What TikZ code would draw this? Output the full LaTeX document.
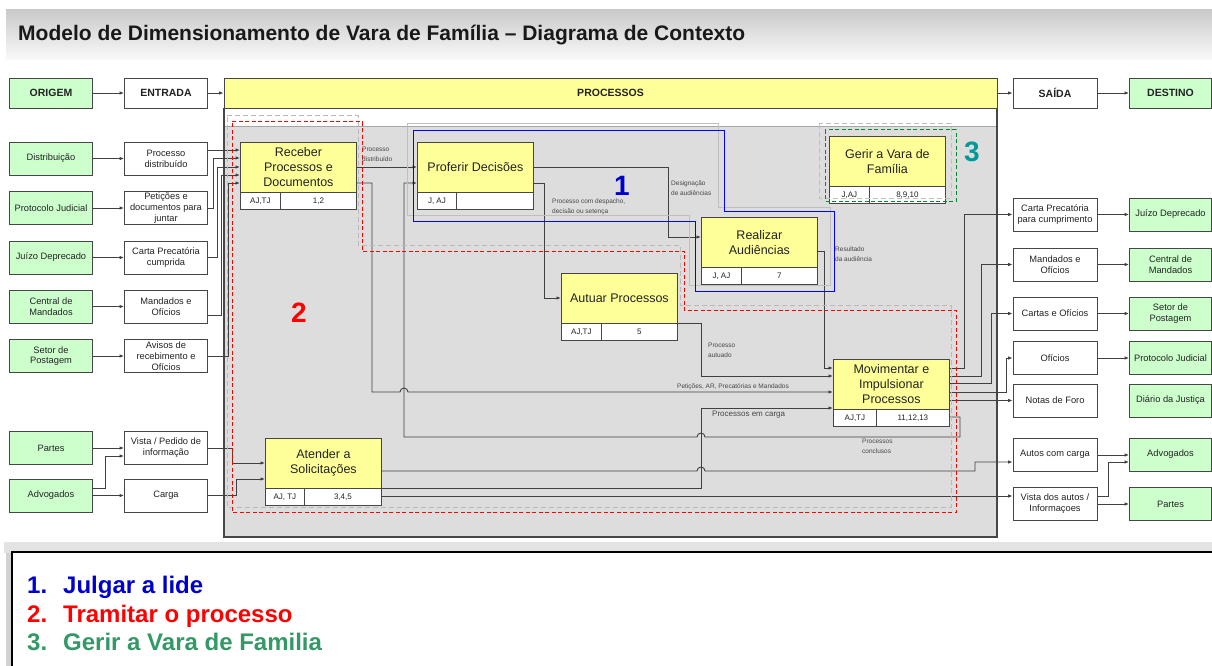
\documentclass[tikz,border=0pt]{standalone}
\usepackage{fontspec}
\setmainfont{Liberation Sans}
\usetikzlibrary{arrows.meta}
\definecolor{greenf}{RGB}{204,255,204}
\definecolor{yellowf}{RGB}{255,255,153}
\definecolor{areaf}{RGB}{221,221,221}
\definecolor{lnc}{RGB}{64,64,64}
\definecolor{bdc}{RGB}{70,70,70}
\definecolor{txc}{RGB}{35,35,35}
\definecolor{lbc}{RGB}{70,70,70}
\definecolor{bluen}{RGB}{0,0,204}
\definecolor{blueg}{RGB}{0,0,255}
\definecolor{tealn}{RGB}{0,153,153}
\definecolor{greenl}{RGB}{51,153,102}
\definecolor{greend}{RGB}{0,140,40}
\newcommand{\fsz}[2]{\fontsize{#1}{#2}\selectfont}
\newcommand{\proc}[8]{%
  \node[ptitle, anchor=north west] (#1) at (#2,#3) {#4};
  \node[pcell, minimum width=#7pt, anchor=north west] (#1L) at (#1.south west) {#5};
  \node[pcell, minimum width=#8pt, anchor=north east] (#1R) at (#1.south east) {#6};
}
\tikzset{
  ln/.style={draw=lnc, line width=0.9pt},
  arr/.style={ln, -{Latex[length=4.5pt,width=3.5pt]}},
  hdr/.style={draw=bdc, line width=0.8pt, font=\fsz{10.5}{12}\bfseries, text=txc, minimum height=30pt, inner sep=0pt},
  gbox/.style={draw=bdc, line width=0.8pt, fill=greenf, minimum width=83pt, minimum height=33pt, align=center, inner sep=0pt, text=txc, font=\fsz{9.3}{10.8}},
  wbox/.style={gbox, fill=white},
  ptitle/.style={draw=bdc, line width=0.8pt, fill=yellowf, minimum width=116pt, minimum height=49.5pt, align=center, inner sep=0pt, text=txc, font=\fsz{12.5}{15}},
  pcell/.style={draw=bdc, line width=0.8pt, fill=white, minimum height=16.5pt, inner sep=0pt, text=txc, font=\fsz{8}{9}},
  lbl/.style={font=\fsz{6.5}{10}, text=lbc, align=left, inner sep=0pt},
  legt/.style={font=\fsz{24}{28}\bfseries, inner sep=0pt, anchor=base west},
  bignum/.style={font=\fsz{28}{30}\bfseries, inner sep=0pt},
}
\begin{document}
\begin{tikzpicture}[x=1pt,y=-1pt]
\useasboundingbox (0,0) rectangle (1212,666);
\fill[white] (0,0) rectangle (1212,666);
% title band
\shade[top color=gray!42, bottom color=gray!4] (6,10) rectangle (1212,60);
\node[anchor=west, inner sep=0pt, font=\fsz{21}{24}\bfseries, text=black!90] (title) at (18,35) {Modelo de Dimensionamento de Vara de Família – Diagrama de Contexto};
% process area
\fill[areaf] (224,126) rectangle (997,537);
\draw[gray!70, line width=0.6pt] (224,126) -- (997,126);
\draw[bdc, line width=1.2pt] (224,108) -- (224,537) -- (997,537) -- (997,108);
% header row
\node[hdr, fill=greenf, minimum width=83pt] (hO) at (51,93) {ORIGEM};
\node[hdr, fill=white, minimum width=83pt] (hE) at (166,93) {ENTRADA};
\node[hdr, fill=yellowf, minimum width=773pt] (hP) at (610.5,93) {PROCESSOS};
\node[hdr, fill=white, minimum width=84pt] (hS) at (1055,93) {SAÍDA};
\node[hdr, fill=greenf, minimum width=82pt] (hD) at (1170.5,93) {DESTINO};
\draw[arr] (hO) -- (hE);
\draw[arr] (hE) -- (hP);
\draw[arr] (hP) -- (hS);
\draw[arr] (hS) -- (hD);
% origem / entrada
\node[gbox] (o1) at (51,158.5) {Distribuição};
\node[gbox] (o2) at (51,208) {Protocolo Judicial};
\node[gbox] (o3) at (51,257.5) {Juízo Deprecado};
\node[gbox] (o4) at (51,306.5) {Central de\\Mandados};
\node[gbox] (o5) at (51,356) {Setor de\\Postagem};
\node[gbox] (o6) at (51,448) {Partes};
\node[gbox] (o7) at (51,495.5) {Advogados};
\node[wbox] (e1) at (166,158.5) {Processo\\distribuído};
\node[wbox] (e2) at (166,208) {Petições e\\documentos para\\juntar};
\node[wbox] (e3) at (166,257.5) {Carta Precatória\\cumprida};
\node[wbox] (e4) at (166,306.5) {Mandados e\\Ofícios};
\node[wbox] (e5) at (166,356) {Avisos de\\recebimento e\\Ofícios};
\node[wbox] (e6) at (166,448) {Vista / Pedido de\\informação};
\node[wbox] (e7) at (166,495.5) {Carga};
% saida / destino
\node[wbox, minimum width=84pt] (s1) at (1055,214.5) {Carta Precatória\\para cumprimento};
\node[wbox, minimum width=84pt] (s2) at (1055,264.5) {Mandados e\\Ofícios};
\node[wbox, minimum width=84pt] (s3) at (1055,313.5) {Cartas e Ofícios};
\node[wbox, minimum width=84pt] (s4) at (1055,358) {Ofícios};
\node[wbox, minimum width=84pt] (s5) at (1055,400.5) {Notas de Foro};
\node[wbox, minimum width=84pt] (s6) at (1055,454.5) {Autos com carga};
\node[wbox, minimum width=84pt] (s7) at (1055,504) {Vista dos autos /\\Informaçoes};
\node[gbox, minimum width=82pt] (d1) at (1170.5,214.5) {Juízo Deprecado};
\node[gbox, minimum width=82pt] (d2) at (1170.5,264.5) {Central de\\Mandados};
\node[gbox, minimum width=82pt] (d3) at (1170.5,313.5) {Setor de\\Postagem};
\node[gbox, minimum width=82pt] (d4) at (1170.5,358) {Protocolo Judicial};
\node[gbox, minimum width=82pt] (d5) at (1170.5,400.5) {Diário da Justiça};
\node[gbox, minimum width=82pt] (d6) at (1170.5,454.5) {Advogados};
\node[gbox, minimum width=82pt] (d7) at (1170.5,504) {Partes};
% processes
\proc{rec}{240}{142}{Receber\\Processos e\\Documentos}{AJ,TJ}{1,2}{40}{76}
\proc{prof}{417}{142}{Proferir Decisões}{J, AJ}{}{39}{77}
\proc{aut}{561}{273}{Autuar Processos}{AJ,TJ}{5}{40}{76}
\proc{real}{701}{217}{Realizar\\Audiências}{J, AJ}{7}{40}{76}
\proc{ger}{829}{136}{Gerir a Vara de\\Família}{J,AJ}{8,9,10}{40}{76}
\proc{mov}{833}{359}{Movimentar e\\Impulsionar\\Processos}{AJ,TJ}{11,12,13}{43}{73}
\proc{ate}{265}{438}{Atender a\\Solicitações}{AJ, TJ}{3,4,5}{39}{77}
% origem -> entrada
\draw[arr] (o1) -- (e1);
\draw[arr] (o2) -- (e2);
\draw[arr] (o3) -- (e3);
\draw[arr] (o4) -- (e4);
\draw[arr] (o5) -- (e5);
\draw[arr] (o6.east |- 0,448) -- (e6.west |- 0,448);
\draw[arr] (o7.east |- 0,488) -| (105,456) -- (e6.west |- 0,456);
\draw[arr] (o7) -- (e7);
% entrada -> receber / atender
\draw[arr] (e1.east |- 0,150) -- (rec.west |- 0,150);
\draw[arr] (e2.east) -| (213,158) -- (rec.west |- 0,158);
\draw[arr] (e3.east) -| (217,167) -- (rec.west |- 0,167);
\draw[arr] (e4.east |- 0,315) -| (221,175) -- (rec.west |- 0,175);
\draw[arr] (e5.east) -| (228,183) -- (rec.west |- 0,183);
\draw[arr] (e6.east) -| (232,463) -- (ate.west |- 0,463);
\draw[arr] (e7.east) -| (236,479) -- (ate.west |- 0,479);
% internal flows
\draw[arr] (rec.east |- 0,167) -- (prof.west |- 0,167);
\draw[arr] (rec.east |- 0,183) -| (372,392) -- (400,392) arc[start angle=180, end angle=0, radius=4pt] -- (mov.west |- 0,392);
\draw[arr] (prof.east |- 0,167) -| (668,237) -- (real.west |- 0,237);
\draw[arr] (prof.east |- 0,183) -| (544,298) -- (aut.west |- 0,298);
\draw[arr] (aut.south east) -| (701,376) -- (mov.west |- 0,376);
\draw[arr] (real.east |- 0,251) -| (824,368) -- (mov.west |- 0,368);
\draw[arr] (ate.south east) -| (701,408) -- (mov.west |- 0,408);
\draw[arr] (movR.east |- 0,417) -| (960,437) -- (705,437) arc[start angle=0, end angle=180, radius=4pt] -- (404,437) |- (prof.west |- 0,183);
\draw[arr] (ate.east |- 0,471) -- (697,471) arc[start angle=180, end angle=0, radius=4pt] -- (975,471) |- (s6.west |- 0,462);
\draw[arr] (ateR.east |- 0,496) -- (s7.west |- 0,496);
% movimentar -> saida
\draw[arr] (mov.east |- 0,368) -| (964,214.5) -- (s1.west);
\draw[arr] (mov.east |- 0,376) -| (981,264.5) -- (s2.west);
\draw[arr] (mov.east |- 0,383) -| (991,313.5) -- (s3.west);
\draw[arr] (mov.east |- 0,392) -| (1006,358) -- (s4.west);
\draw[arr] (mov.east |- 0,400.5) -- (s5.west);
% saida -> destino
\draw[arr] (s1) -- (d1);
\draw[arr] (s2) -- (d2);
\draw[arr] (s3) -- (d3);
\draw[arr] (s4) -- (d4);
\draw[arr] (s6.east |- 0,455) -- (d6.west |- 0,455);
\draw[arr] (s7.east |- 0,496) -| (1108,462) -- (d6.west |- 0,462);
\draw[arr] (s7.east |- 0,504) -- (d7.west |- 0,504);
% labels
\node[lbl, anchor=north west] (lb1) at (362,147) {Processo\\distribuído};
\node[lbl, anchor=north west] (lb2) at (671,181) {Designação\\de audiências};
\node[lbl, anchor=north west] (lb3) at (552,199) {Processo com despacho,\\decisão ou setença};
\node[lbl, anchor=north west] (lb4) at (835,247) {Resultado\\da audiência};
\node[lbl, anchor=north west] (lb5) at (708,343) {Processo\\autuado};
\node[lbl, anchor=south west] (lb6) at (677,390) {Petições, AR, Precatórias e Mandados};
\node[lbl, anchor=west, font=\fsz{8}{9}] (lb7) at (712,415) {Processos em carga};
\node[lbl, anchor=north west] (lb8) at (862,439) {Processos\\conclusos};
% group outlines
\draw[gray!55, line width=1pt, dash pattern=on 5pt off 3pt] (227,116) -- (358,116) -- (358,245) -- (680,245) -- (680,305) -- (951,305) -- (951,507) -- (227,507) -- cycle;
\draw[red, line width=1pt, dash pattern=on 4pt off 2.5pt] (232,122) -- (362,122) -- (362,251) -- (684,251) -- (684,310) -- (956,310) -- (956,512) -- (232,512) -- cycle;
\draw[gray!50, line width=1pt] (407,124) -- (718,124) -- (718,207) -- (830,207) -- (830,285) -- (689,285) -- (689,215) -- (407,215) -- cycle;
\draw[blueg, line width=1pt] (413,131) -- (724,131) -- (724,211) -- (834,211) -- (834,291) -- (695,291) -- (695,221) -- (413,221) -- cycle;
\draw[gray!50, line width=1pt, dash pattern=on 5pt off 3pt] (819,124) rectangle (951,198);
\draw[greend, line width=1pt, dash pattern=on 4pt off 2.5pt] (825,130) rectangle (956,201);
% big numbers
\node[bignum, text=bluen] (n1) at (622,186) {1};
\node[bignum, text=red] (n2) at (299,313) {2};
\node[bignum, text=tealn] (n3) at (972,152) {3};
% legend
\fill[gray!22] (4,542) rectangle (1212,553);
\fill[gray!35] (6,553) rectangle (12,666);
\draw[black, line width=1.2pt, fill=white] (12,552) rectangle (1216,672);
\node[legt, text=bluen] (l1n) at (27,593) {1.};
\node[legt, text=bluen] (l1) at (63,593) {Julgar a lide};
\node[legt, text=red] (l2n) at (27,622) {2.};
\node[legt, text=red] (l2) at (63,622) {Tramitar o processo};
\node[legt, text=greenl] (l3n) at (27,650) {3.};
\node[legt, text=greenl] (l3) at (63,650) {Gerir a Vara de Familia};
\end{tikzpicture}
\end{document}
